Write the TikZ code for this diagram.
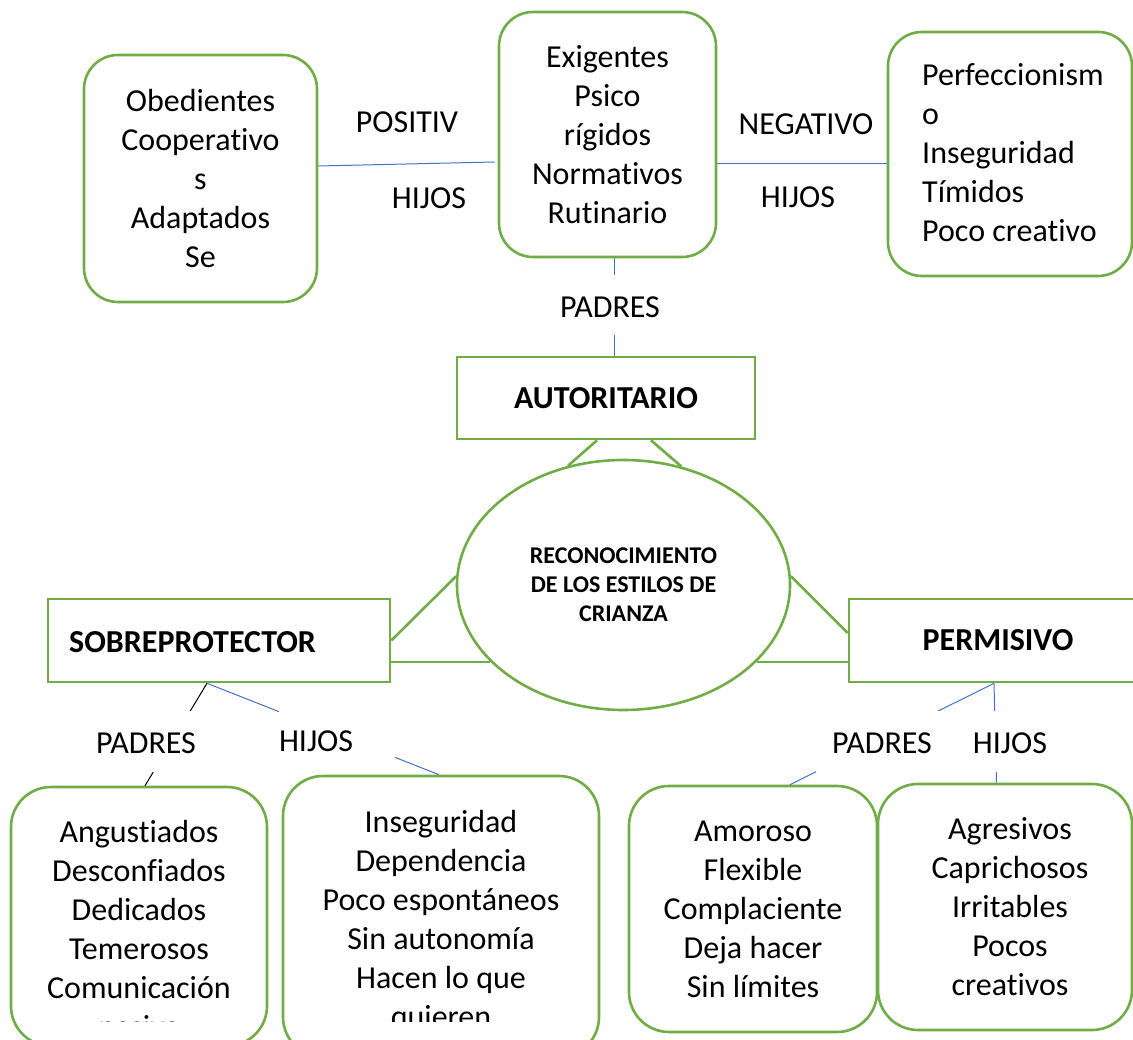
\documentclass[tikz,border=0pt]{standalone}
\usepackage{fontspec}
\setmainfont{Carlito}[Ligatures=NoCommon]
\usetikzlibrary{shapes.geometric}
\definecolor{ogreen}{HTML}{70AD47}
\definecolor{oblue}{HTML}{4472C4}
\begin{document}
\begin{tikzpicture}[x=1pt,y=-1pt,
  txt/.style={font=\fontsize{32}{39}\selectfont, align=center, inner sep=0pt},
  btxt/.style={font=\bfseries\fontsize{32}{39}\selectfont, inner sep=0pt},
  gbox/.style={draw=ogreen, line width=2.6pt, fill=white, inner sep=0pt},
  rbox/.style={gbox, rounded corners=34pt},
  rboxb/.style={gbox, rounded corners=40pt},
  bl/.style={draw=oblue, line width=1pt},
  gl/.style={draw=ogreen, line width=2.6pt},
  lbl/.style={txt, fill=white, text height=42pt, text depth=19pt}]
\useasboundingbox (0,0) rectangle (1133,1040);
\fill[white] (0,0) rectangle (1133,1040);
\clip (0,0) rectangle (1133,1040);

% top boxes
\node[rbox, txt, minimum width=233pt, minimum height=247pt] (ob) at (200.5,178.5)
  {Obedientes\\Cooperativo\\s\\Adaptados\\Se};
\node[rbox, txt, minimum width=217pt, minimum height=245pt] (ex) at (607.5,134.5)
  {Exigentes\\Psico\\rígidos\\Normativos\\Rutinario};
\node[rbox, minimum width=244pt, minimum height=244pt] (pf) at (1010,154) {};
\node[txt, align=left, anchor=west] (pft) at (922,152.5)
  {Perfeccionism\\o\\Inseguridad\\Tímidos\\Poco creativo};

% middle boxes
\node[gbox, btxt, minimum width=298pt, minimum height=82pt] (aut) at (606,398) {AUTORITARIO};
\node[ellipse, gbox, minimum width=333pt, minimum height=250pt, align=center,
  font=\bfseries\fontsize{24}{29}\selectfont] (ell) at (623.5,585)
  {RECONOCIMIENTO\\DE LOS ESTILOS DE\\CRIANZA};
\node[gbox, minimum width=342pt, minimum height=83pt] (sob) at (219,640.5) {};
\node[btxt, anchor=west] (sobt) at (69,642) {SOBREPROTECTOR};
\node[gbox, btxt, minimum width=298pt, minimum height=83pt] (perm) at (998,640.5) {PERMISIVO};

% bottom boxes
\node[rboxb, minimum width=256pt, minimum height=259pt] (ang) at (139,916.5) {};
\node[rboxb, minimum width=316pt, minimum height=281pt] (ins) at (441,916.5) {};
\node[rboxb, txt, minimum width=248pt, minimum height=246pt] (amo) at (753,909)
  {Amoroso\\Flexible\\Complaciente\\Deja hacer\\Sin límites};
\node[rboxb, minimum width=254pt, minimum height=246pt] (agr) at (1005,907) {};
\node[txt] (agrt) at (1010,907) {Agresivos\\Caprichosos\\Irritables\\Pocos\\creativos};

\begin{scope}
  \clip (0,0) rectangle (1133,1021);
  \node[txt] (angt) at (139,931) {Angustiados\\Desconfiados\\Dedicados\\Temerosos\\Comunicación\\pasiva};
  \node[txt] (inst) at (441,921.5) {Inseguridad\\Dependencia\\Poco espontáneos\\Sin autonomía\\Hacen lo que\\quieren};
\end{scope}

% blue connectors at top
\draw[bl] ([yshift=12.5pt]ob.east) -- ([xshift=-3pt,yshift=-27.5pt]ex.west);
\draw[bl] ([yshift=-29.5pt]ex.east) -- ([yshift=-10pt]pf.west);
\draw[bl] ([xshift=6.5pt]ex.south) -- ([xshift=8pt]aut.north);

% green connectors around the ellipse
\draw[gl] ([xshift=-9pt]aut.south) -- (ell.115);
\draw[gl] ([xshift=45pt]aut.south) -- (ell.64);
\draw[gl] (sob.east) -- (ell.177);
\draw[gl] (ell.210) -- (ell.210 -| sob.east);
\draw[gl] (ell.3) -- ([yshift=7.5pt]perm.west);
\draw[gl] (ell.330) -- (ell.330 -| perm.west);

% bottom connectors
\draw[black, line width=1pt] ([xshift=-12pt]sob.south) -- ([xshift=6pt]ang.north);
\draw[bl] ([xshift=-12pt]sob.south) -- ([xshift=-2pt]ins.north);
\draw[bl] ([xshift=-4pt]perm.south) -- ([xshift=37pt]amo.north);
\draw[bl] ([xshift=-4pt]perm.south) -- ([xshift=-8.5pt]agr.north);

% labels
\node[txt] (pos) at (407,122) {POSITIV};
\node[txt] (hij1) at (429,198) {HIJOS};
\node[txt] (neg) at (806,124) {NEGATIVO};
\node[txt] (hij2) at (798,197) {HIJOS};
\node[lbl, text height=43pt, text depth=17pt] (padA) at (610,305) {PADRES};
\node[lbl] (padS) at (146,741.5) {PADRES};
\node[lbl, text width=116pt, align=left] (hijS) at (337,739.5) {HIJOS};
\node[lbl, minimum width=132pt] (padP) at (882,741.5) {PADRES};
\node[lbl] (hijP) at (1010,741.5) {HIJOS};
\end{tikzpicture}
\end{document}
